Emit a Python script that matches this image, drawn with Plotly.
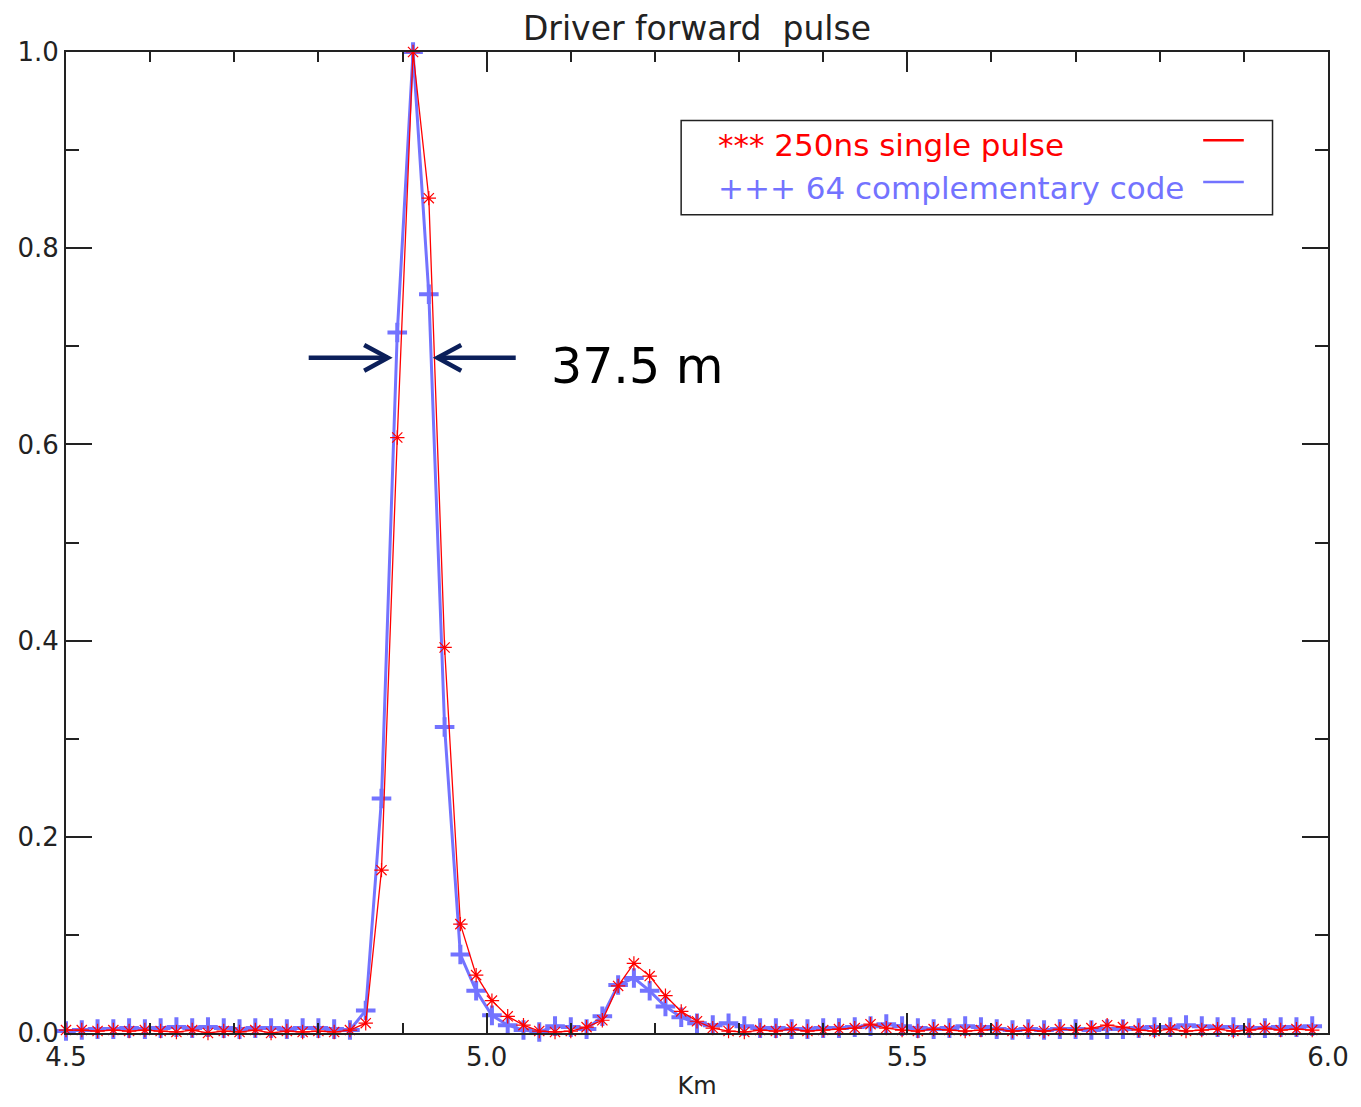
import numpy as np
import plotly.graph_objects as go

# ---- data ----
x_start = 4.5
x_step = 0.01875
n_points = 80
km = [round(x_start + i * x_step, 5) for i in range(n_points)]

single_pulse = [
    0.003, 0.003, 0.002, 0.003, 0.002, 0.003, 0.002, 0.001, 0.003, 0.000,
    0.002, 0.001, 0.003, 0.000, 0.002, 0.001, 0.002, 0.001, 0.003,
    0.010, 0.166, 0.607, 1.000, 0.851, 0.393, 0.111, 0.059, 0.033, 0.017,
    0.008, 0.002, 0.001, 0.002, 0.006, 0.013, 0.048, 0.071, 0.058, 0.038,
    0.022, 0.012, 0.005,
    0.002, 0.001, 0.003, 0.002, 0.004, 0.002, 0.003, 0.004, 0.005, 0.009,
    0.005, 0.003, 0.002, 0.004, 0.003, 0.002, 0.003, 0.004, 0.002, 0.003,
    0.002, 0.004, 0.003, 0.005, 0.008, 0.006, 0.003, 0.002, 0.004, 0.002,
    0.003, 0.004, 0.002, 0.003, 0.005, 0.003, 0.004, 0.003,
]

complementary = [
    0.002, 0.003, 0.004, 0.004, 0.005, 0.004, 0.005, 0.006, 0.005, 0.006,
    0.005, 0.004, 0.005, 0.005, 0.004, 0.005, 0.005, 0.004, 0.003,
    0.023, 0.239, 0.714, 1.000, 0.753, 0.312, 0.080, 0.043, 0.018, 0.008,
    0.003, 0.001, 0.007, 0.006, 0.004, 0.017, 0.049, 0.056, 0.043, 0.027,
    0.016, 0.010, 0.008,
    0.010, 0.007, 0.005, 0.005, 0.004, 0.004, 0.005, 0.005, 0.006, 0.007,
    0.009, 0.007, 0.005, 0.004, 0.005, 0.007, 0.006, 0.004, 0.003, 0.004,
    0.003, 0.004, 0.004, 0.003, 0.004, 0.004, 0.005, 0.006, 0.006, 0.008,
    0.007, 0.006, 0.006, 0.005, 0.005, 0.006, 0.006, 0.007,
]

x_tick_vals = [4.5, 5.0, 5.5, 6.0]
x_tick_text = ["4.5", "5.0", "5.5", "6.0"]
y_tick_vals = [0.0, 0.2, 0.4, 0.6, 0.8, 1.0]
y_tick_text = ["0.0", "0.2", "0.4", "0.6", "0.8", "1.0"]

RED = "#ff0000"
BLUE = "#7373ff"
NAVY = "#0b1f5a"
AX = "#222222"
FONT = "DejaVu Sans ExtraLight, DejaVu Sans, Liberation Sans"

fig = go.Figure()
fig.add_trace(go.Scatter(
    x=km, y=complementary, mode="lines+markers", name="+++ 64 complementary code",
    line=dict(color=BLUE, width=3),
    marker=dict(symbol="cross-thin-open", size=14, color=BLUE, line=dict(color=BLUE, width=4)),
    cliponaxis=False,
))
fig.add_trace(go.Scatter(
    x=km, y=single_pulse, mode="lines+markers", name="*** 250ns single pulse",
    line=dict(color=RED, width=1.3),
    marker=dict(symbol="asterisk-open", size=12, color=RED, line=dict(color=RED, width=1.2)),
    cliponaxis=False,
))

# plot area geometry in pixels (for layout placement of decorations)
FIG_W, FIG_H = 1361, 1107
L, R, T, B = 66, 1340, 52, 1040
W, H = R - L, B - T
def px(xp):
    return (xp - L) / W
def py(yp):
    return (B - yp) / H

shapes = []
# legend box
shapes.append(dict(type="rect", xref="paper", yref="paper",
                   x0=px(687), x1=px(1284), y0=py(216), y1=py(121),
                   line=dict(color=AX, width=1.5), fillcolor="rgba(0,0,0,0)"))
# legend line samples
shapes.append(dict(type="line", xref="paper", yref="paper",
                   x0=px(1214), x1=px(1255), y0=py(141), y1=py(141),
                   line=dict(color=RED, width=2.5)))
shapes.append(dict(type="line", xref="paper", yref="paper",
                   x0=px(1214), x1=px(1255), y0=py(183), y1=py(183),
                   line=dict(color=BLUE, width=2.5)))

# width arrows
ay = py(360)
wdx = 24 / W
wdy = 13 / H
ltip, ltail = px(391), px(311)
rtip, rtail = px(441), px(520)
for path in [
    f"M {ltail},{ay} L {ltip},{ay}",
    f"M {ltip - wdx},{ay + wdy} L {ltip},{ay} L {ltip - wdx},{ay - wdy}",
    f"M {rtail},{ay} L {rtip},{ay}",
    f"M {rtip + wdx},{ay + wdy} L {rtip},{ay} L {rtip + wdx},{ay - wdy}",
]:
    shapes.append(dict(type="path", xref="paper", yref="paper", path=path,
                       line=dict(color=NAVY, width=4.5)))

annotations = [
    dict(text="*** 250ns single pulse", xref="paper", yref="paper",
         x=px(722), y=py(146), xanchor="left", yanchor="middle", showarrow=False,
         font=dict(family=FONT, size=31, color=RED)),
    dict(text="+++ 64 complementary code", xref="paper", yref="paper",
         x=px(722), y=py(189), xanchor="left", yanchor="middle", showarrow=False,
         font=dict(family=FONT, size=31, color=BLUE)),
    dict(text="37.5 m", xref="paper", yref="paper",
         x=px(554), y=py(369), xanchor="left", yanchor="middle", showarrow=False,
         font=dict(family="DejaVu Sans", size=49, color="#000000")),
]

fig.update_layout(
    width=FIG_W, height=FIG_H,
    margin=dict(l=L, r=FIG_W - R, t=T, b=FIG_H - B, pad=0),
    paper_bgcolor="white", plot_bgcolor="white",
    showlegend=False,
    title=dict(text="Driver forward\u00a0 pulse", x=0.5, xref="paper", xanchor="center",
               y=1 - 28 / FIG_H, yref="container", yanchor="middle",
               font=dict(family=FONT, size=33, color=AX)),
    shapes=shapes,
    annotations=annotations,
    xaxis=dict(
        range=[4.5, 6.0], tickmode="array", tickvals=x_tick_vals, ticktext=x_tick_text,
        ticks="inside", ticklen=20, tickwidth=1.5, tickcolor=AX,
        showline=True, linecolor=AX, linewidth=2, mirror="ticks",
        showgrid=False, zeroline=False,
        minor=dict(ticks="inside", ticklen=10, tickwidth=1.5, tickcolor=AX, dtick=0.1, tick0=4.5, showgrid=False),
        tickfont=dict(family=FONT, size=26, color=AX),
        title=dict(text="Km", font=dict(family=FONT, size=24, color=AX), standoff=6),
    ),
    yaxis=dict(
        range=[0.0, 1.0], tickmode="array", tickvals=y_tick_vals, ticktext=y_tick_text,
        ticks="inside", ticklen=26, tickwidth=1.5, tickcolor=AX,
        showline=True, linecolor=AX, linewidth=2, mirror="ticks",
        showgrid=False, zeroline=False,
        minor=dict(ticks="inside", ticklen=13, tickwidth=1.5, tickcolor=AX, dtick=0.1, tick0=0, showgrid=False),
        tickfont=dict(family=FONT, size=26, color=AX),
    ),
)

fig.write_html("out.html")
